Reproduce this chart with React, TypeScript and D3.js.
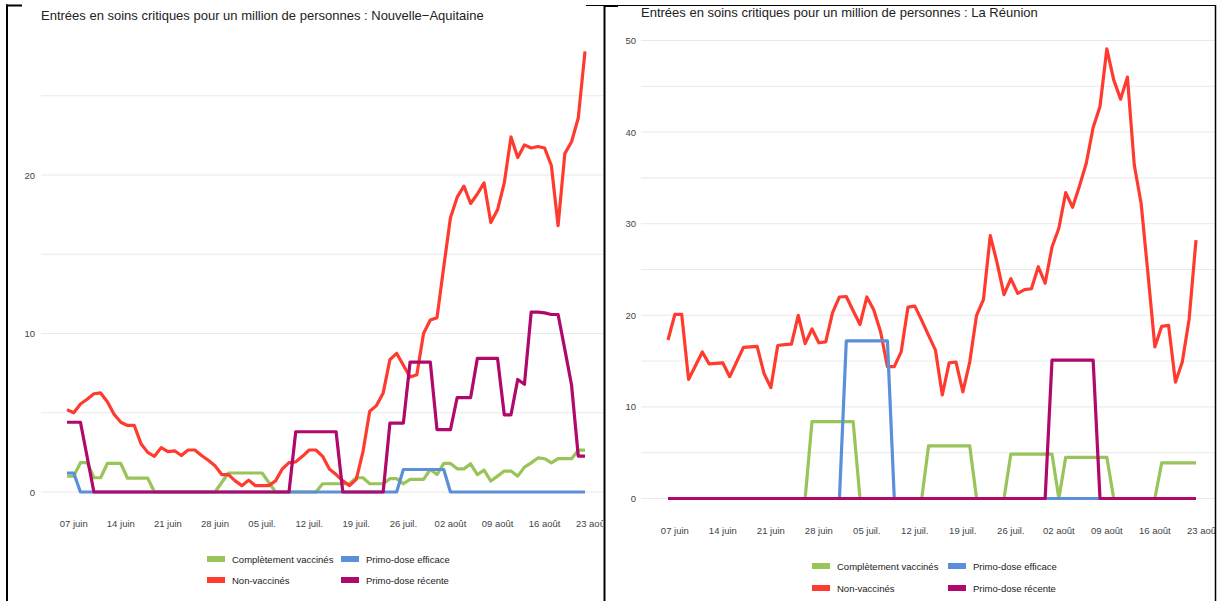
import { useMemo } from "react";
import * as d3 from "d3";

const WIDTH = 1217;
const HEIGHT = 601;
const FONT = "Liberation Sans, Arial, sans-serif";

const START = new Date(2021, 5, 6);
const END = new Date(2021, 7, 22);
const FIRST_TICK = new Date(2021, 5, 7);

const xTickLabels = [
  "07 juin", "14 juin", "21 juin", "28 juin", "05 juil.", "12 juil.",
  "19 juil.", "26 juil.", "02 août", "09 août", "16 août", "23 août",
];

const seriesNames = ["Complètement vaccinés", "Non-vaccinés", "Primo-dose efficace", "Primo-dose récente"];
const seriesColors = ["#98c45a", "#ff3b30", "#5b8fd8", "#b0086b"];
// legend slots: [column, row]
const legendSlots = [[0, 0], [0, 1], [1, 0], [1, 1]];

// ---- Nouvelle-Aquitaine (daily values from 06 juin) ----
const naNonVax = [
  5.2, 5.0, 5.55, 5.85, 6.2, 6.25, 5.7, 4.9, 4.4, 4.2, 4.2, 3.05, 2.5, 2.25,
  2.8, 2.55, 2.6, 2.3, 2.65, 2.65, 2.3, 2.0, 1.65, 1.1, 1.1, 0.7, 0.4, 0.75,
  0.4, 0.4, 0.4, 0.7, 1.45, 1.85, 1.9, 2.25, 2.65, 2.65, 2.25, 1.45, 1.1, 0.7,
  0.4, 0.8, 2.55, 5.1, 5.45, 6.25, 8.35, 8.75, 8.0, 7.25, 7.4, 10.0, 10.85,
  11.0, 14.2, 17.3, 18.6, 19.3, 18.2, 18.8, 19.5, 17.0, 17.8, 19.5, 22.4, 21.1,
  21.9, 21.7, 21.8, 21.7, 20.6, 16.8, 21.35, 22.1, 23.6, 27.8,
];
const naFullVax = [
  1.0, 1.0, 1.85, 1.85, 0.9, 0.9, 1.8, 1.8, 1.8, 0.87, 0.87, 0.87, 0.87,
  0, 0, 0, 0, 0, 0, 0, 0, 0, 0, 0.6, 1.2, 1.2, 1.2, 1.2, 1.2, 1.2, 0.6,
  0, 0, 0, 0, 0, 0, 0, 0.52, 0.52, 0.52, 0.52, 0.52, 0.9, 0.9, 0.52, 0.52,
  0.52, 0.84, 0.84, 0.52, 0.8, 0.8, 0.8, 1.42, 1.1, 1.8, 1.8, 1.46, 1.46,
  1.78, 1.1, 1.38, 0.69, 1.0, 1.32, 1.32, 1.0, 1.57, 1.84, 2.15, 2.1, 1.84,
  2.1, 2.1, 2.1, 2.64, 2.64,
];
// [day, value] vertices
const naDoseEff: [number, number][] = [
  [0, 1.2], [1, 1.2], [2, 0], [49, 0], [50, 1.42], [56, 1.42], [57, 0], [77, 0],
];
const naDoseRec: [number, number][] = [
  [0, 4.4], [2, 4.4], [4, 0], [33, 0], [34, 3.8], [40, 3.8], [41, 0], [47, 0],
  [48, 4.35], [50, 4.35], [51, 8.2], [54, 8.2], [55, 3.93], [57, 3.93],
  [58, 5.96], [60, 5.96], [61, 8.43], [64, 8.43], [65, 4.87], [66, 4.87],
  [67, 7.1], [68, 6.8], [69, 11.35], [70, 11.35], [71, 11.3], [72, 11.2],
  [73, 11.2], [74, 9.0], [75, 6.75], [76, 2.26], [77, 2.26],
];

// ---- La Réunion ----
const reNonVax = [
  17.3, 20.1, 20.1, 13.0, 14.5, 16.0, 14.7, 14.75, 14.8, 13.3, 14.9, 16.5,
  16.55, 16.6, 13.65, 12.1, 16.7, 16.8, 16.85, 20.0, 16.9, 18.5, 17.0, 17.1,
  20.3, 22.0, 22.05, 20.5, 19.0, 22.0, 20.6, 18.2, 14.4, 14.4, 16.0, 20.9,
  21.0, 19.45, 17.8, 16.2, 11.3, 14.8, 14.9, 11.65, 14.9, 20.0, 21.7, 28.7,
  25.7, 22.25, 24.0, 22.4, 22.8, 22.9, 25.3, 23.5, 27.45, 29.5, 33.4, 31.8,
  34.1, 36.6, 40.5, 42.8, 49.1, 45.7, 43.6, 46.0, 36.4, 32.2, 24.5, 16.55,
  18.8, 18.9, 12.7, 14.9, 19.6, 28.2,
];
const reFullVax: [number, number][] = [
  [0, 0], [20, 0], [21, 8.4], [27, 8.4], [28, 0], [37, 0], [38, 5.75],
  [44, 5.75], [45, 0], [49, 0], [50, 4.85], [56, 4.85], [57, 0], [58, 4.5],
  [64, 4.5], [65, 0], [71, 0], [72, 3.9], [77, 3.9],
];
const reDoseEff: [number, number][] = [
  [0, 0], [25, 0], [26, 17.2], [32, 17.2], [33, 0], [77, 0],
];
const reDoseRec: [number, number][] = [
  [0, 0], [55, 0], [56, 15.1], [62, 15.1], [63, 0], [77, 0],
];

const daily = (arr: number[]): [number, number][] => arr.map((v, i) => [i, v]);

type PanelProps = {
  id: string;
  title: string;
  titleX: number;
  titleY: number;
  series: [number, number][][];
  xRange: [number, number];
  yMax: number;
  yRange: [number, number];
  gridStep: number;
  labelStep: number;
  gridX: [number, number];
  yLabelX: number;
  xLabelY: number;
  legendX: [number, number];
  legendY: [number, number];
  clip: [number, number];
};

const Panel = (p: PanelProps) => {
  const xScale = useMemo(
    () => d3.scaleTime().domain([START, END]).range(p.xRange),
    [p.xRange]
  );
  const yScale = useMemo(
    () => d3.scaleLinear().domain([0, p.yMax]).range(p.yRange),
    [p.yMax, p.yRange]
  );

  const line = d3
    .line<[number, number]>()
    .x((d) => xScale(d3.timeDay.offset(START, d[0])))
    .y((d) => yScale(d[1]));

  const gridValues = d3.range(0, p.yMax + 0.001, p.gridStep);
  const labelValues = d3.range(0, p.yMax + 0.001, p.labelStep);

  return (
    <g>
      <defs>
        <clipPath id={`clip-${p.id}`}>
          <rect x={p.clip[0]} y={0} width={p.clip[1] - p.clip[0]} height={HEIGHT} />
        </clipPath>
      </defs>
      <g clipPath={`url(#clip-${p.id})`}>
        <text x={p.titleX} y={p.titleY} fontSize={13} fill="#222" fontFamily={FONT}>
          {p.title}
        </text>
        {gridValues.map((v, i) => (
          <line
            key={i}
            x1={p.gridX[0]}
            x2={p.gridX[1]}
            y1={yScale(v)}
            y2={yScale(v)}
            stroke="#e9e9e9"
            strokeWidth={1}
          />
        ))}
        {labelValues.map((v, i) => (
          <text
            key={i}
            x={p.yLabelX}
            y={yScale(v)}
            textAnchor="end"
            dominantBaseline="central"
            fontSize={9.5}
            fill="#444"
            fontFamily={FONT}
          >
            {v}
          </text>
        ))}
        {xTickLabels.map((label, i) => (
          <text
            key={i}
            x={xScale(d3.timeDay.offset(FIRST_TICK, 7 * i))}
            y={p.xLabelY}
            textAnchor="middle"
            fontSize={9.5}
            fill="#444"
            fontFamily={FONT}
          >
            {label}
          </text>
        ))}
        {p.series.map((s, i) => (
          <path
            key={i}
            d={line(s) || ""}
            fill="none"
            stroke={seriesColors[i]}
            strokeWidth={3.2}
            strokeLinejoin="round"
          />
        ))}
        {seriesNames.map((name, i) => {
          const [c, r] = legendSlots[i];
          const x = p.legendX[c];
          const y = p.legendY[r];
          return (
            <g key={i}>
              <rect x={x} y={y - 3} width={18} height={6} fill={seriesColors[i]} />
              <text x={x + 25} y={y} dominantBaseline="central" fontSize={9.5} fill="#222" fontFamily={FONT}>
                {name}
              </text>
            </g>
          );
        })}
      </g>
    </g>
  );
};

export default function App() {
  return (
    <svg
      width={WIDTH}
      height={HEIGHT}
      style={{ position: "absolute", left: 0, top: 0, background: "#fff" }}
    >
      <Panel
        id="na"
        title="Entrées en soins critiques pour un million de personnes : Nouvelle−Aquitaine"
        titleX={41}
        titleY={20}
        series={[daily(naFullVax), daily(naNonVax), naDoseEff, naDoseRec]}
        xRange={[67, 585]}
        yMax={25}
        yRange={[492, 95.75]}
        gridStep={5}
        labelStep={10}
        gridX={[41, 603]}
        yLabelX={35}
        xLabelY={527}
        legendX={[207, 341]}
        legendY={[559, 580]}
        clip={[8, 603]}
      />
      <Panel
        id="re"
        title="Entrées en soins critiques pour un million de personnes : La Réunion"
        titleX={641}
        titleY={17}
        series={[reFullVax, daily(reNonVax), reDoseEff, reDoseRec]}
        xRange={[668, 1196]}
        yMax={50}
        yRange={[498.5, 40.5]}
        gridStep={5}
        labelStep={10}
        gridX={[641, 1215]}
        yLabelX={636}
        xLabelY={534}
        legendX={[812, 948]}
        legendY={[566, 588]}
        clip={[606, 1215]}
      />
      {/* frame lines of the screenshot */}
      <line x1={7} x2={7} y1={4.5} y2={HEIGHT} stroke="#000" strokeWidth={2} />
      <line x1={6} x2={22} y1={5.5} y2={5.5} stroke="#000" strokeWidth={2} />
      <line x1={586} x2={1216} y1={5.5} y2={5.5} stroke="#000" strokeWidth={1} />
      <line x1={604} x2={618} y1={6} y2={6} stroke="#000" strokeWidth={2} />
      <line x1={604.5} x2={604.5} y1={5} y2={HEIGHT} stroke="#000" strokeWidth={2} />
      <line x1={1215.5} x2={1215.5} y1={5} y2={HEIGHT} stroke="#000" strokeWidth={1.5} />
    </svg>
  );
}
